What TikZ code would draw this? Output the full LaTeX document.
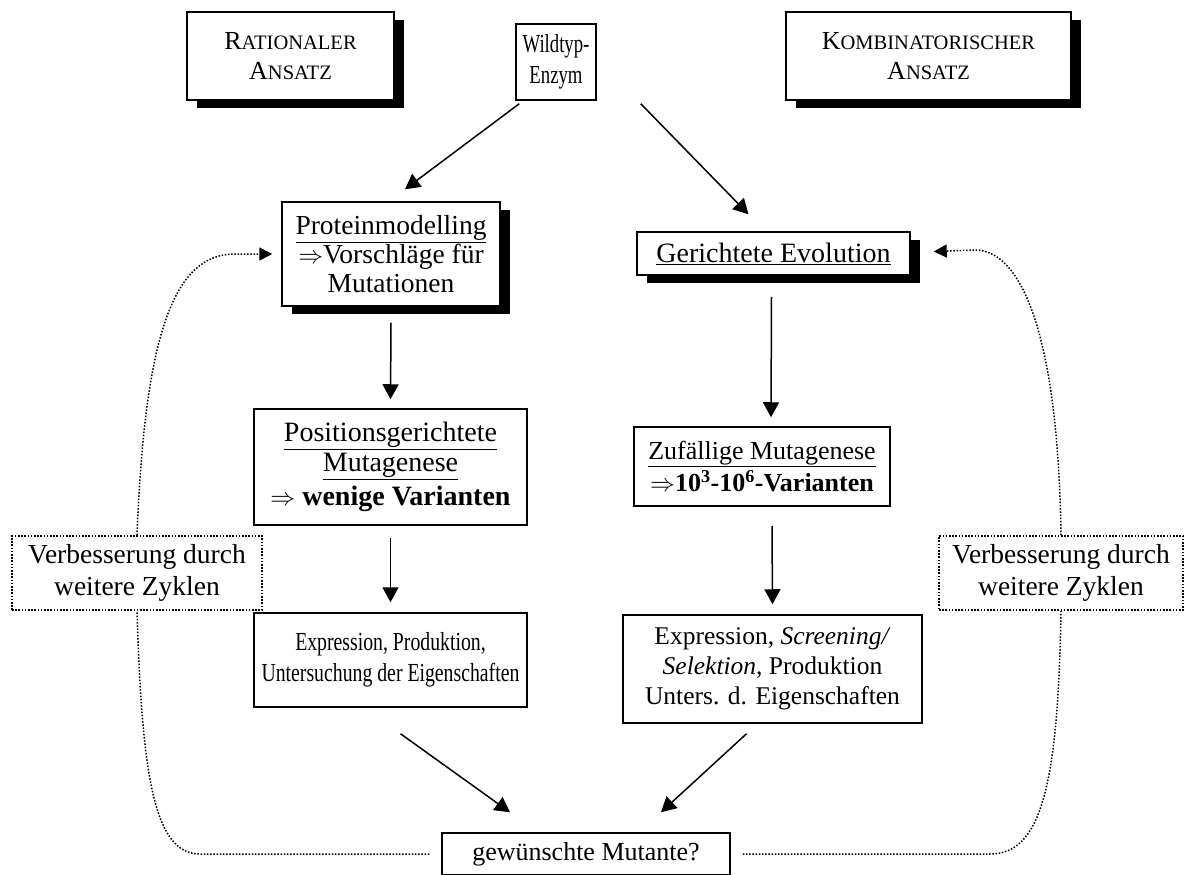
\documentclass[tikz,border=0pt]{standalone}
\usepackage{fontspec}
\setmainfont{Liberation Serif}
\newfontfamily\narrowA[FakeStretch=0.72]{Liberation Serif}
\newfontfamily\narrowB[FakeStretch=0.76]{Liberation Serif}
\usetikzlibrary{arrows.meta,calc,shadows}
\newcommand\fsc[1]{{\fontsize{20.5}{30}\selectfont #1}}
\begin{document}
\begin{tikzpicture}[x=1pt,y=-1pt,
  every node/.style={font=\fontsize{26}{30}\selectfont, align=center, inner sep=0pt},
  box/.style={draw, line width=1.5pt, fill=white},
  sbox/.style={box, drop shadow={shadow xshift=10pt, shadow yshift=-8pt, fill=black, opacity=1}},
  dbox/.style={draw, line width=1.6pt, dash pattern=on 1.6pt off 1.6pt, fill=white},
  arr/.style={line width=1.5pt, -{Triangle[length=15pt,width=16pt]}},
  cyc/.style={line width=1.5pt, dash pattern=on 1.5pt off 1.7pt},
  cyctip/.style={cyc, -{Triangle[length=13pt,width=13pt]}}
]
\useasboundingbox (0,0) rectangle (1184,875);

% boxes that the dotted cycle connectors attach to
\node[sbox, minimum width=218pt, minimum height=104pt, font=\fontsize{27.5}{29}\selectfont] (prot) at (391,254)
  {\underline{Proteinmodelling}\\$\Rightarrow$Vorschläge für\\Mutationen};
\node[sbox, minimum width=273pt, minimum height=43pt, font=\fontsize{28}{30}\selectfont] (ger) at (773.5,253.5)
  {\underline{Gerichtete Evolution}};
\node[box, minimum width=288pt, minimum height=42pt] (gew) at (586,854)
  {gewünschte Mutante?};
\node[dbox, minimum width=250pt, minimum height=74pt, font=\fontsize{27.5}{32}\selectfont] (verl) at (137,573)
  {Verbesserung durch\\weitere Zyklen};
\node[dbox, minimum width=244pt, minimum height=74pt, font=\fontsize{27.5}{32}\selectfont] (verr) at (1061,573)
  {Verbesserung durch\\weitere Zyklen};

\draw[cyc] ($(gew.west)+(-12,0)$) -- (200,854) .. controls (155,854) and (142,780) .. (verl.south);
\draw[cyctip] (verl.north) .. controls (145,330) and (175,254) .. (235,254) -- ($(prot.west)+(-9,0)$);
\draw[cyc] ($(gew.east)+(12,0)$) -- (990,854) .. controls (1040,854) and (1058,790) .. (verr.south);
\draw[cyctip] (verr.north) .. controls (1058,330) and (1020,250) .. (975,250) -- ($(ger.east)+(23,-2)$);

% other boxes
\node[sbox, minimum width=207pt, minimum height=88pt] (rat) at (290.5,56)
  {R\fsc{ATIONALER}\\A\fsc{NSATZ}};
\node[box, minimum width=80pt, minimum height=76pt, font=\narrowA\fontsize{26}{31}\selectfont] (wild) at (556,62)
  {Wildtyp-\\Enzym};
\node[sbox, minimum width=285pt, minimum height=88pt] (komb) at (928.5,56)
  {K\fsc{OMBINATORISCHER}\\A\fsc{NSATZ}};
\node[box, minimum width=273pt, minimum height=116pt, font=\fontsize{28}{30}\selectfont] (pos) at (390.5,467)
  {\underline{Positionsgerichtete}\\\underline{Mutagenese}\\[4pt]$\Rightarrow$ \textbf{wenige Varianten}};
\node[box, minimum width=256pt, minimum height=79pt] (zuf) at (762,466.5)
  {\underline{Zufällige Mutagenese}\\[2pt]$\Rightarrow$\textbf{10\textsuperscript{3}-10\textsuperscript{6}-Varianten}};
\node[box, minimum width=273pt, minimum height=94pt, font=\narrowB\fontsize{26}{31}\selectfont] (expl) at (390.5,660)
  {Expression, Produktion,\\Untersuchung der Eigenschaften};
\node[box, minimum width=299pt, minimum height=108pt, font=\fontsize{25.5}{30}\selectfont] (expr) at (772.5,669)
  {Expression, \textit{Screening/}\\\textit{Selektion}, Produktion\\Unters. d. Eigenschaften};

% arrows
\draw[arr] ($(wild.south west)+(4,3)$) -- ($(prot.north)+(14,-12)$);
\draw[arr] ($(wild.south east)+(44,3)$) -- ($(ger.north)+(-25,-17)$);
\draw[arr] ($(prot.south)+(0,16)$) -- ($(pos.north)+(0,-9)$);
\draw[arr] ($(ger.south)+(-2,21)$) -- ($(zuf.north)+(9,-9)$);
\draw[arr] ($(pos.south)+(0,12)$) -- ($(expl.north)+(0,-10)$);
\draw[arr] ($(zuf.south)+(10,19)$) -- ($(expr.north)+(0,-10)$);
\draw[arr] ($(expl.south)+(10,26)$) -- ($(gew.north)+(-76,-20)$);
\draw[arr] ($(expr.south)+(-26,10)$) -- ($(gew.north)+(75,-20)$);
\end{tikzpicture}
\end{document}
